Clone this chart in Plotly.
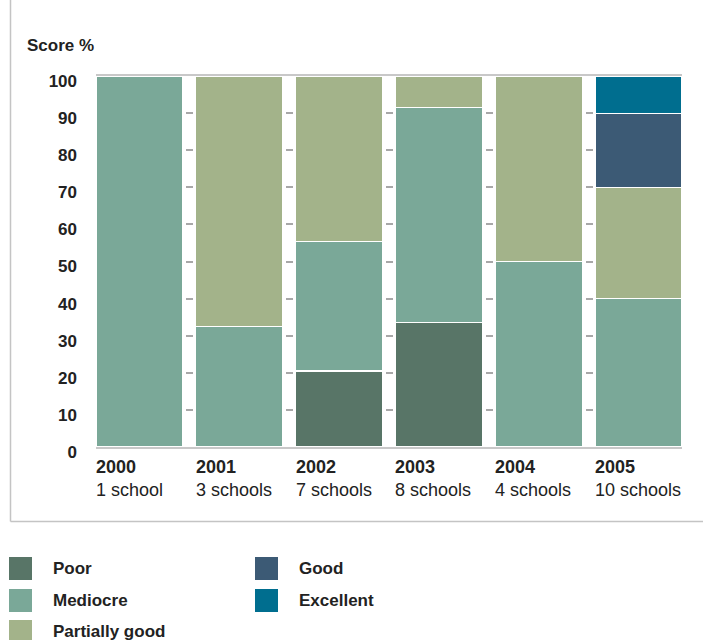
import plotly.graph_objects as go

years = ["2000", "2001", "2002", "2003", "2004", "2005"]
schools = ["1 school", "3 schools", "7 schools", "8 schools", "4 schools", "10 schools"]
poor = [None, None, 20.5, 33.5, None, None]
mediocre = [100, 32.5, 35, 58, 50, 40]
partially_good = [None, 67.5, 44.5, 8.5, 50, 30]
good = [None, None, None, None, None, 20]
excellent = [None, None, None, None, None, 10]
y_ticks = [0, 10, 20, 30, 40, 50, 60, 70, 80, 90, 100]

series = [
    ("Poor", poor, "#587567"),
    ("Mediocre", mediocre, "#7aa898"),
    ("Partially good", partially_good, "#a3b38a"),
    ("Good", good, "#3c5a75"),
    ("Excellent", excellent, "#006e8f"),
]

W, H = 703, 640
L, R, T, B = 96, 21, 76, 193
PW, PH = W - L - R, H - T - B
BARGAP = 0.13
half = (1 - BARGAP) / 2

def px(x):
    return (x - L) / PW

def py(y):
    return (H - B - y) / PH

FONT = "Liberation Sans, Arial, Helvetica, sans-serif"
TXT = "#222222"
FS = 18

fig = go.Figure()
for name, vals, col in series:
    fig.add_trace(go.Bar(
        x=list(range(len(years))), y=vals, name=name,
        marker=dict(color=col, line=dict(color="white", width=1.2)),
        showlegend=False,
    ))

annotations = []
for i, (yr, sc) in enumerate(zip(years, schools)):
    annotations.append(dict(
        x=i - half, xref="x", y=py(455), yref="paper", xanchor="left", yanchor="top",
        text=f"<b>{yr}</b><br>{sc}", showarrow=False, align="left", xshift=-2,
        font=dict(family=FONT, size=FS, color=TXT),
    ))
annotations.append(dict(
    x=px(25), xref="paper", y=py(45), yref="paper", xanchor="left", yanchor="middle",
    text="<b>Score %</b>", showarrow=False, font=dict(family=FONT, size=FS - 1, color=TXT),
))

shapes = [
    dict(type="line", xref="paper", yref="paper", x0=px(10.5), x1=px(10.5), y0=py(0), y1=py(521.5),
         line=dict(color="#c4c4c4", width=1.5)),
    dict(type="line", xref="paper", yref="paper", x0=px(10.5), x1=px(703), y0=py(521.5), y1=py(521.5),
         line=dict(color="#c4c4c4", width=1.5)),
]

legend_pos = [(9, 557), (9, 589), (9, 620), (255, 557), (255, 589)]
for (name, _, col), (lx, ly) in zip(series, legend_pos):
    shapes.append(dict(type="rect", xref="paper", yref="paper",
                       x0=px(lx), x1=px(lx + 23), y0=py(ly), y1=py(ly + 23),
                       fillcolor=col, line=dict(width=0)))
    annotations.append(dict(
        x=px(lx + 42), xref="paper", y=py(ly + 11), yref="paper", xanchor="left", yanchor="middle",
        text=f"<b>{name}</b>", showarrow=False, font=dict(family=FONT, size=FS - 1, color=TXT),
    ))

fig.update_layout(
    width=W, height=H,
    margin=dict(l=L, r=R, t=T, b=B),
    barmode="stack", bargap=BARGAP,
    plot_bgcolor="white", paper_bgcolor="white",
    annotations=annotations, shapes=shapes,
    showlegend=False,
)
fig.update_xaxes(
    range=[-half, len(years) - 1 + half], showticklabels=False, showgrid=False,
    showline=True, mirror=True, linecolor="#c8c8c8", linewidth=1.5, layer="below traces",
    zeroline=False, fixedrange=True,
)
fig.update_yaxes(
    range=[0, 100], tickvals=y_ticks, showgrid=True, gridcolor="#a8a8a8", griddash="7px,3px",
    gridwidth=1.5, zeroline=False, showline=False, layer="below traces",
    tickfont=dict(family=FONT, size=FS - 1, color=TXT, weight="bold"),
    ticklabelstandoff=18, ticklabelshift=5, fixedrange=True,
)

fig.write_html("out.html")
